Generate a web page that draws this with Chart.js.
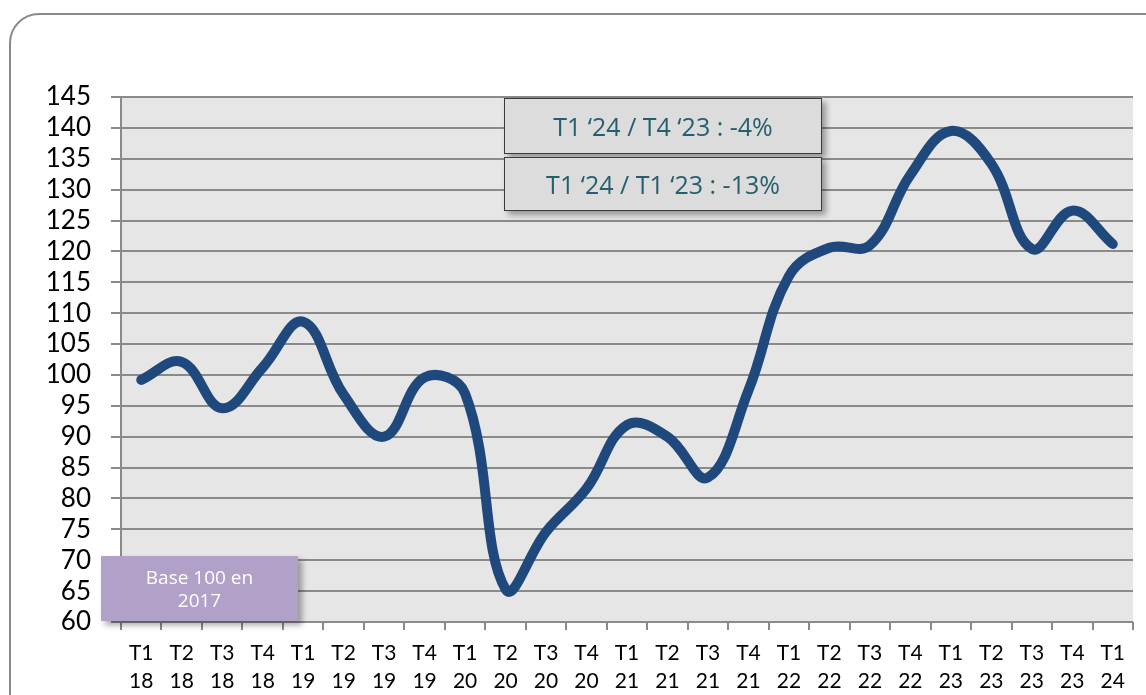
<!DOCTYPE html>
<html>
<head>
<meta charset="utf-8">
<script src="https://cdn.jsdelivr.net/npm/chart.js@4"></script>
<style>
    html, body { margin: 0; padding: 0; background: #fff; }
    #wrap { position: relative; width: 1146px; height: 695px; overflow: hidden; }
    #card {
        position: absolute; left: 9px; top: 13px; width: 1200px; height: 750px;
        border: 2px solid #8a8a8a; border-radius: 30px; box-sizing: border-box;
    }
    #chart { position: absolute; left: 0; top: 0; }
    .note {
        position: absolute; background: #dcdcdc; border: 1.5px solid #3a3a3a;
        box-sizing: border-box; color: #245f6e; font-family: "Open Sans", sans-serif;
        font-size: 25px; display: flex; align-items: center; justify-content: center;
        box-shadow: 4px 4px 6px rgba(0, 0, 0, 0.35);
    }
    #base {
        position: absolute; left: 101px; top: 556px; width: 197px; height: 65px;
        background: #b1a0c7; color: #fff; font-family: "Open Sans", sans-serif;
        font-size: 19px; line-height: 23px; text-align: center; display: flex;
        align-items: center; justify-content: center;
        box-shadow: 4px 4px 6px rgba(0, 0, 0, 0.35);
    }
</style>
</head>
<body>
<div id="wrap">
    <div id="card"></div>
    <canvas id="chart" width="1146" height="695"></canvas>
    <div class="note" style="left:504px; top:98px; width:318px; height:56px;">T1 ‘24 / T4 ‘23 : -4%</div>
    <div class="note" style="left:504px; top:157px; width:318px; height:54px;">T1 ‘24 / T1 ‘23 : -13%</div>
    <div id="base">Base 100 en<br>2017</div>
</div>
<script>
// quarters and years shown under each point
const quarters = ["T1", "T2", "T3", "T4", "T1", "T2", "T3", "T4", "T1", "T2", "T3", "T4", "T1",
    "T2", "T3", "T4", "T1", "T2", "T3", "T4", "T1", "T2", "T3", "T4", "T1"];
const years = ["18", "18", "18", "18", "19", "19", "19", "19", "20", "20", "20", "20", "21",
    "21", "21", "21", "22", "22", "22", "22", "23", "23", "23", "23", "24"];

// index values (base 100 in 2017)
const indexValues = [99.2, 102.1, 94.6, 101.2, 108.6, 96.8, 90, 99.6, 97, 65.3, 74.6, 81.6, 91.9,
    90, 83.4, 97.5, 116, 120.6, 121, 132.4, 139.5, 134.2, 120.4, 126.6, 121.2];

const yTicks = { min: 60, max: 145, step: 5 };

const labels = quarters.map((q, i) => [q, years[i]]);

// grey plot background
const plotBackground = {
    id: "plotBackground",
    beforeDraw(chart) {
        const { ctx, chartArea } = chart;
        ctx.save();
        ctx.fillStyle = "#e6e6e6";
        ctx.fillRect(chartArea.left, chartArea.top, chartArea.right - chartArea.left, chartArea.bottom - chartArea.top);
        ctx.restore();
    }
};

new Chart(document.getElementById("chart"), {
    type: "line",
    data: {
        labels: labels,
        datasets: [{
            data: indexValues,
            borderColor: "#1f497d",
            borderWidth: 10,
            borderCapStyle: "round",
            borderJoinStyle: "round",
            tension: 0.4,
            pointRadius: 0,
            fill: false
        }]
    },
    options: {
        responsive: false,
        animation: false,
        layout: { padding: { top: 97, right: 13, left: 0, bottom: 0 } },
        plugins: { legend: { display: false }, tooltip: { enabled: false } },
        scales: {
            x: {
                offset: true,
                afterFit: (scale) => { scale.height = 73; },
                grid: { offset: true, drawOnChartArea: false, drawTicks: true, tickLength: 8, color: "#8a8a8a", lineWidth: 2 },
                border: { display: false },
                ticks: { color: "#000", padding: 10, maxRotation: 0, autoSkip: false,
                    font: { family: "Lato", size: 21, lineHeight: 1.3 } }
            },
            y: {
                min: yTicks.min,
                max: yTicks.max,
                afterFit: (scale) => { scale.width = 121; },
                grid: { color: "#8a8a8a", lineWidth: 2, tickLength: 10 },
                border: { color: "#8a8a8a", width: 2 },
                ticks: { stepSize: yTicks.step, color: "#000", padding: 20, autoSkip: false,
                    font: { family: "Lato", size: 26 } }
            }
        }
    },
    plugins: [plotBackground]
});
</script>
</body>
</html>
